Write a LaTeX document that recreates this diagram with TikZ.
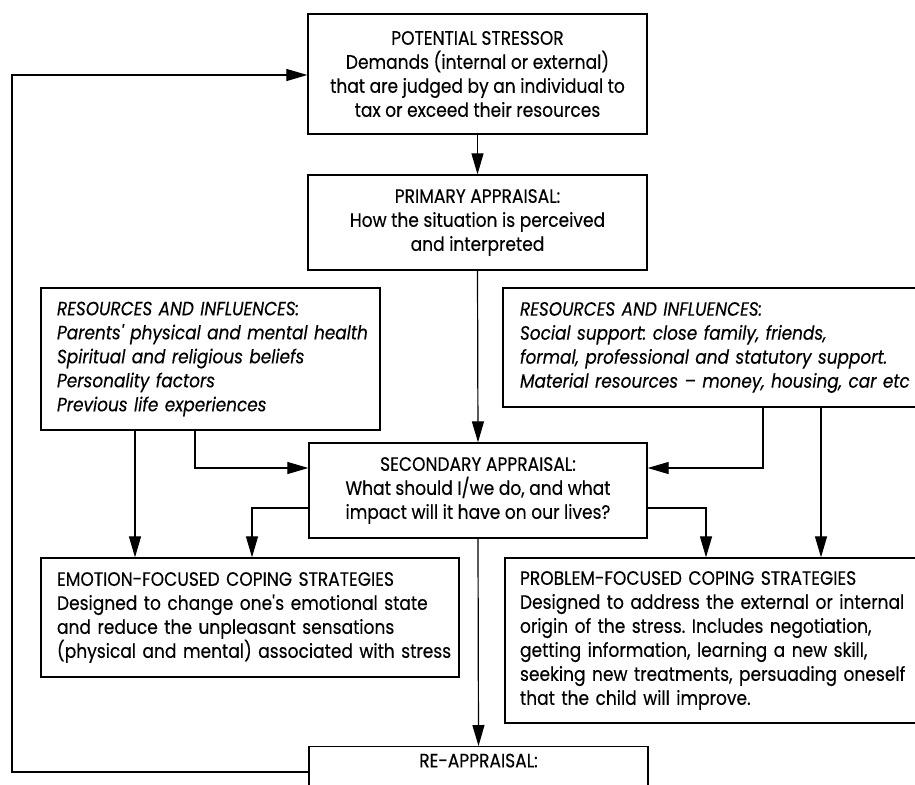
\documentclass[tikz,border=0pt]{standalone}
\usepackage{fontspec}
\setmainfont[FakeStretch=0.88,FakeBold=0.3]{Poppins}
\usetikzlibrary{arrows.meta}
\newcommand\oneline[1]{\mbox{#1}}
\frenchspacing
\begin{document}
\begin{tikzpicture}[x=1pt,y=-1pt,
  every node/.style={font=\fontsize{19.4}{24}\selectfont},
  itfont/.style={font=\fontsize{19.2}{24}\selectfont\itshape},
  cbox/.style={draw, line width=1.3pt, align=center, inner sep=0pt},
  lbox/.style={draw, line width=1.3pt, align=left, inner ysep=0pt},
  arr/.style={line width=1.2pt, -{Triangle[length=21pt,width=12pt]}},
]
\useasboundingbox (0,0) rectangle (915,784);
\clip (0,0) rectangle (915,784);
\fill[white] (0,0) rectangle (915,784);

% x / y guide coordinates for connectors
\coordinate (xa) at (135,0);
\coordinate (xb) at (195,0);
\coordinate (xc) at (252,0);
\coordinate (xd) at (706,0);
\coordinate (xe) at (763,0);
\coordinate (xf) at (821,0);
\coordinate (xl) at (12,0);
\coordinate (ya) at (0,468);
\coordinate (yb) at (0,508);
\coordinate (yl) at (0,772);
\coordinate (yt) at (0,75);

\node[cbox, minimum width=339pt, minimum height=120pt] (stressor) at (477.5,74)
  {POTENTIAL STRESSOR\\Demands (internal or external)\\that are judged by an individual to\\tax or exceed their resources};

\node[cbox, minimum width=339pt, minimum height=95pt] (primary) at (477.5,222.5)
  {PRIMARY APPRAISAL:\\How the situation is perceived\\and interpreted};

\node[lbox, itfont, inner xsep=16pt, text width=307pt, minimum height=142pt] (leftres) at (210.5,359)
  {\oneline{RESOURCES AND INFLUENCES:}\\\oneline{Parents\textquotesingle\ physical and mental health}\\\oneline{Spiritual and religious beliefs}\\\oneline{Personality factors}\\\oneline{Previous life experiences}};

\node[lbox, itfont, inner xsep=17pt, text width=420pt, minimum height=119pt] (rightres) at (730,347.5)
  {\oneline{RESOURCES AND INFLUENCES:}\\\oneline{Social support: close family, friends,}\\\oneline{formal, professional and statutory support.}\\\oneline{Material resources -- money, housing, car etc}};

\node[cbox, minimum width=338pt, minimum height=95pt] (secondary) at (478,490.5)
  {SECONDARY APPRAISAL:\\What should I/we do, and what\\impact will it have on our lives?};

\node[lbox, inner xsep=16pt, text width=386pt, minimum height=119pt] (emotion) at (250,617.5)
  {\oneline{EMOTION-FOCUSED COPING STRATEGIES}\\\oneline{Designed to change one\textquotesingle s emotional state}\\\oneline{and reduce the unpleasant sensations}\\\oneline{(physical and mental) associated with stress}};

\node[lbox, inner xsep=15pt, text width=420pt, minimum height=165pt] (problem) at (730,640.5)
  {\oneline{PROBLEM-FOCUSED COPING STRATEGIES}\\\oneline{Designed to address the external or internal}\\\oneline{origin of the stress. Includes negotiation,}\\\oneline{getting information, learning a new skill,}\\\oneline{seeking new treatments, persuading oneself}\\\oneline{that the child will improve.}};

\node[draw, line width=1.3pt, anchor=north, minimum width=339pt, inner xsep=0pt, inner ysep=7pt, text depth=90pt] (reapp) at (478.5,746)
  {RE-APPRAISAL:};

% connectors
\draw[arr] (stressor.south) -- (primary.north);
\draw[arr] (primary.south) -- (secondary.north);
\draw[arr] (leftres.south -| xa) -- (emotion.north -| xa);
\draw[arr] (leftres.south -| xb) |- (secondary.west |- ya);
\draw[arr] (secondary.west |- yb) -| (emotion.north -| xc);
\draw[arr] (secondary.east |- yb) -| (problem.north -| xd);
\draw[arr] (rightres.south -| xe) |- (secondary.east |- ya);
\draw[arr] (rightres.south -| xf) -- (problem.north -| xf);
\draw[arr] (secondary.south) -- (reapp.north);
\draw[arr] (reapp.west |- yl) -- (xl |- yl) -- (xl |- yt) -- (stressor.west |- yt);
\end{tikzpicture}
\end{document}
